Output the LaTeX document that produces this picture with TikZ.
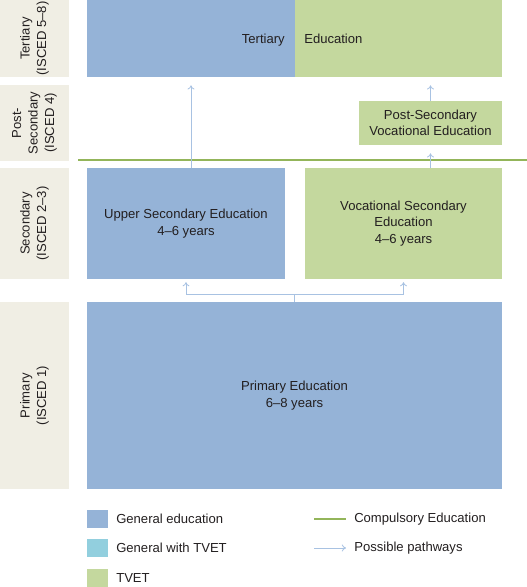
\documentclass[tikz,border=0pt]{standalone}
\usepackage{fontspec}
\setmainfont{Liberation Sans}
\usetikzlibrary{arrows.meta}
\definecolor{genblue}{HTML}{95B3D7}
\definecolor{tvgreen}{HTML}{C4D89E}
\definecolor{mixcyan}{HTML}{92CFDE}
\definecolor{bandbg}{HTML}{F0EEE4}
\definecolor{lawgreen}{HTML}{93B55A}
\definecolor{pathblue}{HTML}{A8C2E2}
\definecolor{ink}{HTML}{231F20}
\begin{document}
\begin{tikzpicture}
  [x=0.025cm,y=-0.025cm,
   every node/.style={inner sep=0pt,text=ink,font=\fontsize{9.3}{11.8}\selectfont},
   band/.style={fill=bandbg,minimum height=1.725cm,rotate=90,align=center},
   block/.style={align=center},
   key/.style={minimum width=0.525cm,minimum height=0.45cm},
   path/.style={draw=pathblue,line width=0.6pt},
   way/.style={path,-{To[length=3pt,width=5pt]}}]
  \useasboundingbox (0,0) rectangle (527,587);
  % level labels
  \node (lab1)[band,minimum width=1.925cm] at (34.5,38.5) {Tertiary\\(ISCED 5--8)};
  \node (lab2)[band,minimum width=1.9cm] at (34.5,123) {Post-\\Secondary\\(ISCED 4)};
  \node (lab3)[band,minimum width=2.775cm] at (34.5,223.5) {Secondary\\(ISCED 2--3)};
  \node (lab4)[band,minimum width=4.675cm] at (34.5,395.5) {Primary\\(ISCED 1)};
  % programmes
  \node (tergen)[fill=genblue,minimum width=5.2cm,minimum height=1.925cm] at (191,38.5) {};
  \node (tertvet)[fill=tvgreen,minimum width=5.175cm,minimum height=1.925cm] at (398.5,38.5) {};
  \node (ter1)[anchor=base east] at (285,43) {Tertiary};
  \node (ter2)[anchor=base west] at (304,43) {Education};
  \node (postsec)[block,fill=tvgreen,minimum width=3.575cm,minimum height=1.1cm] at (430.5,123) {Post-Secondary\\Vocational Education};
  \node (upsec)[block,fill=genblue,minimum width=4.95cm,minimum height=2.775cm] at (186,223.5) {Upper Secondary Education\\4--6 years};
  \node (vocsec)[block,fill=tvgreen,minimum width=4.925cm,minimum height=2.775cm] at (403.5,223.5) {Vocational Secondary\\Education\\4--6 years};
  \node (prim)[block,fill=genblue,minimum width=10.375cm,minimum height=4.675cm] at (294.5,395.5) {Primary Education\\6--8 years};
  % compulsory line
  \coordinate (cl) at (78,160);
  \coordinate (cr) at (527,160);
  \draw[lawgreen,line width=1.6pt] (cl) -- (cr);
  % pathways
  \coordinate (j) at (294.5,294);
  \draw[path] (prim.north) -- (j);
  \draw[way] (j) -| ([yshift=-2pt]upsec.south);
  \draw[way] (j) -| ([yshift=-2pt]vocsec.south);
  \draw[way,shorten >=0.2cm] (upsec.north -| tergen.south) -- (tergen.south);
  \draw[way,shorten >=0.2cm] (vocsec.north -| postsec.south) -- (postsec.south);
  \draw[way,shorten >=0.2cm] (postsec.north) -- (postsec.north |- tertvet.south);
  % legend
  \node (k1)[key,fill=genblue] at (97.5,519) {};
  \node (k2)[key,fill=mixcyan] at (97.5,547.5) {};
  \node (k3)[key,fill=tvgreen] at (97.5,577.5) {};
  \node (t1)[anchor=west] at (116,519) {General education};
  \node (t2)[anchor=west] at (116,547.5) {General with TVET};
  \node (t3)[anchor=west] at (116,577.5) {TVET};
  \coordinate (l1a) at (314,519);
  \coordinate (l1b) at (346,519);
  \coordinate (l2a) at (314,548);
  \coordinate (l2b) at (346,548);
  \draw[lawgreen,line width=1.1pt] (l1a) -- (l1b);
  \draw[way] (l2a) -- (l2b);
  \node (t4)[anchor=west] at (354,519) {Compulsory Education};
  \node (t5)[anchor=west] at (354,548) {Possible pathways};
\end{tikzpicture}
\end{document}
